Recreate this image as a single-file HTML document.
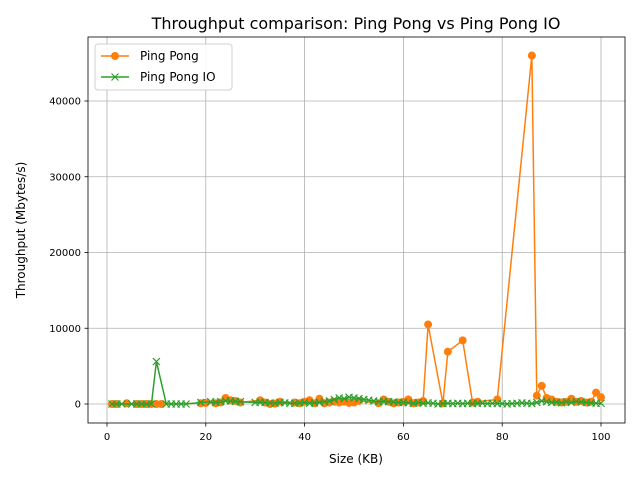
<!DOCTYPE html>
<html><head><meta charset="utf-8"><style>
body{margin:0;background:#fff;font-family:"Liberation Sans","DejaVu Sans",sans-serif}
svg text{font-family:"DejaVu Sans","Liberation Sans",sans-serif}
</style></head><body>
<svg id="chart" width="640" height="480" xmlns="http://www.w3.org/2000/svg">
<rect width="640" height="480" fill="#fff"/>
<g id="grid"></g>
<g id="ticks"></g>
<g id="series"></g>
<rect x="88" y="37" width="537" height="386" fill="none" stroke="#000" stroke-width="0.8"/>
<text x="356" y="29" font-size="16" text-anchor="middle">Throughput comparison: Ping Pong vs Ping Pong IO</text>
<text x="356" y="463" font-size="12" text-anchor="middle">Size (KB)</text>
<text x="25" y="230" font-size="12" text-anchor="middle" transform="rotate(-90 25 230)">Throughput (Mbytes/s)</text>
<g>
<rect x="95" y="44" width="137" height="46" fill="#fff" stroke="#ccc" rx="3" opacity="0.9"/>
<g>
<line x1="101" y1="56" x2="129" y2="56" stroke="#ff7f0e" stroke-width="1.5"/><circle cx="115" cy="56" r="4" fill="#ff7f0e"/>
<text x="140" y="60" font-size="12">Ping Pong</text></g>
<g>
<line x1="101" y1="77" x2="129" y2="77" stroke="#2ca02c" stroke-width="1.5"/>
<path d="M111.5 73.5L118.5 80.5M118.5 73.5L111.5 80.5" stroke="#2ca02c" stroke-width="1.2"/>
<text x="140" y="81" font-size="12">Ping Pong IO</text></g>
</g>
</svg>
<script>
const xTicks=[0,20,40,60,80,100];
const yTicks=[0,10000,20000,30000,40000];
const ppX=[1,2,4,6,7,8,9,10,11,19,20,22,23,24,25,26,27,31,32,33,34,35,38,39,40,41,42,43,44,45,46,47,48,49,50,51,55,56,57,58,59,60,61,62,63,64,65,68,69,72,74,75,79,86,87,88,89,90,91,92,93,94,95,96,97,98,99,100];
const ppY=[0,0,100,0,0,0,0,0,0,100,150,100,200,800,500,400,200,500,200,0,50,300,200,100,300,500,100,700,100,200,300,200,300,150,200,400,100,600,300,100,200,300,600,100,200,400,10500,100,6900,8400,200,300,600,46000,1100,2400,800,600,300,200,300,700,300,400,200,300,1500,900];
const ioX=[1,2,3,5,6,7,8,9,10,12,13,14,15,16,19,21,22,23,24,25,26,27,30,31,32,33,34,35,36,37,38,39,40,41,42,43,44,45,46,47,48,49,50,51,52,53,54,55,56,57,58,59,60,61,62,63,64,65,66,67,68,69,70,71,72,73,74,75,76,77,78,79,80,81,82,83,84,85,86,87,88,89,90,91,92,93,94,95,96,97,98,99,100];
const ioY=[0,0,0,0,0,0,0,0,5600,0,0,0,0,0,200,300,200,300,400,400,350,300,200,250,200,150,100,200,150,100,100,150,200,100,150,200,300,400,600,800,700,900,800,700,600,500,400,300,350,300,250,200,200,150,100,200,100,150,100,0,50,100,50,100,50,100,50,100,100,50,100,50,50,0,50,100,150,100,50,200,400,300,200,250,150,300,200,350,250,200,150,100,100];
const X=v=>107+v*4.94, Y=v=>404-v*0.007575;
const NS='http://www.w3.org/2000/svg';
function mk(tag,attrs,parent){const e=document.createElementNS(NS,tag);for(const k in attrs)e.setAttribute(k,attrs[k]);parent.appendChild(e);return e;}
const grid=document.getElementById('grid'),ticks=document.getElementById('ticks'),series=document.getElementById('series');
xTicks.forEach(t=>{
 const g=mk('line',{x1:X(t),x2:X(t),y1:37,y2:423,stroke:'#b0b0b0','stroke-width':0.8},grid);
 
 
 mk('line',{x1:X(t),x2:X(t),y1:423,y2:426.5,stroke:'#000','stroke-width':0.8},ticks);
 const l=mk('text',{x:X(t),y:440,'font-size':10,'text-anchor':'middle'},ticks);l.textContent=t;
 
 
});
yTicks.forEach(t=>{
 const g=mk('line',{x1:88,x2:625,y1:Y(t),y2:Y(t),stroke:'#b0b0b0','stroke-width':0.8},grid);
 
 
 mk('line',{x1:84.5,x2:88,y1:Y(t),y2:Y(t),stroke:'#000','stroke-width':0.8},ticks);
 const l=mk('text',{x:81,y:Y(t)+3.5,'font-size':10,'text-anchor':'end'},ticks);l.textContent=t;
 
 
});
function draw(xs,ys,color,marker,name){
 const p=mk('polyline',{points:xs.map((x,i)=>X(x)+','+Y(ys[i])).join(' '),fill:'none',stroke:color,'stroke-width':1.5},series);
 
 
 xs.forEach((x,i)=>{
  const cx=X(x),cy=Y(ys[i]);let m;
  if(marker==='o'){m=mk('circle',{cx:cx,cy:cy,r:4,fill:color},series);}
  else{m=mk('path',{d:`M${cx-3.5} ${cy-3.5}L${cx+3.5} ${cy+3.5}M${cx+3.5} ${cy-3.5}L${cx-3.5} ${cy+3.5}`,stroke:color,'stroke-width':1.2,fill:'none'},series);}
  
  
 });
}
draw(ppX,ppY,'#ff7f0e','o','ping-pong');
draw(ioX,ioY,'#2ca02c','x','ping-pong-io');
</script>
</body></html>
